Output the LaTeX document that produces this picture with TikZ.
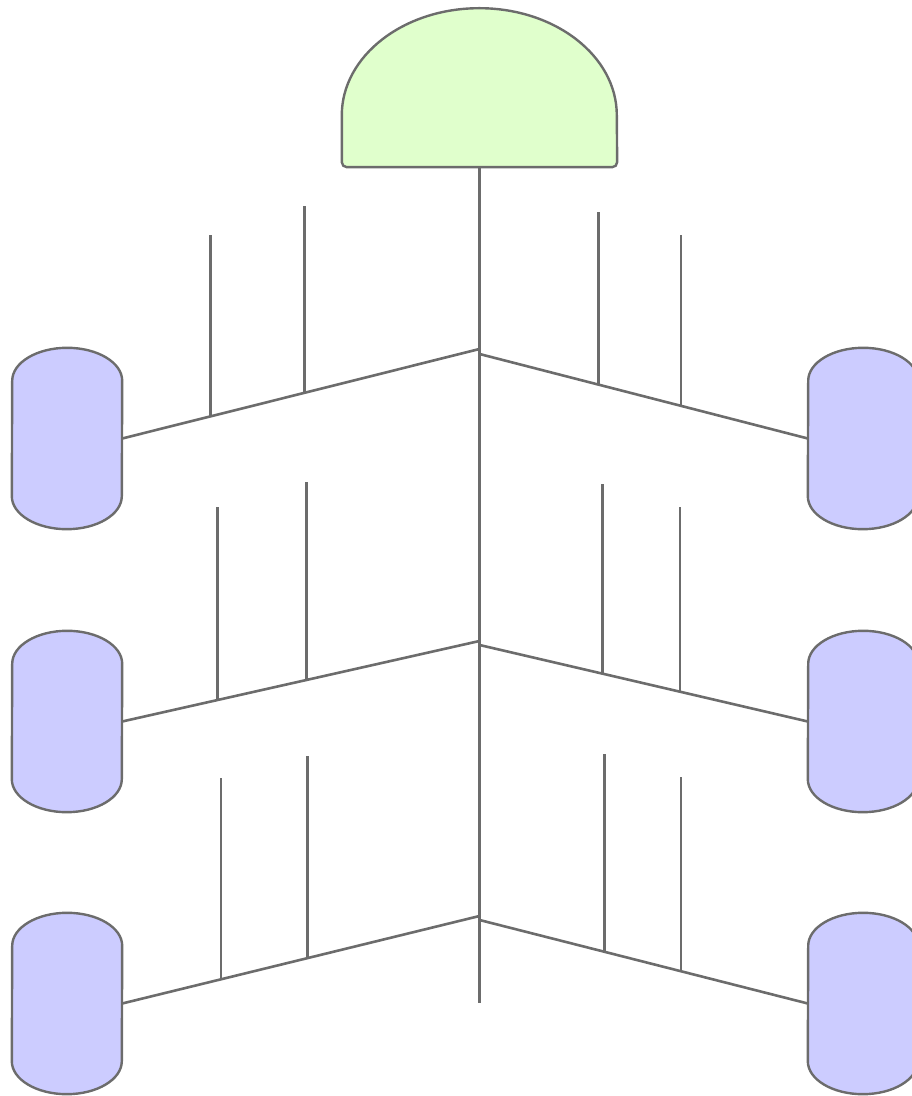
\documentclass[tikz,border=0pt]{standalone}
\usetikzlibrary{calc}
\definecolor{headgreen}{RGB}{224,255,204}
\definecolor{causeblue}{RGB}{204,204,255}
\definecolor{boneline}{RGB}{108,108,108}

\begin{document}
\begin{tikzpicture}[x=1pt,y=1pt,
  bone/.style={draw=boneline,line width=2.6pt},
  headbox/.style={inner sep=0pt,minimum width=275pt,minimum height=159pt},
  cause/.style={inner sep=0pt,minimum width=110pt,minimum height=181pt},
  outline/.style={draw=boneline,line width=2.4pt}]
\useasboundingbox (0,0) rectangle (912,1096);
\clip (0,0) rectangle (912,1096);
% head and causes
\node[headbox] (head) at (479.5,1008.5) {};
\node[cause] (c1) at (67,657.5) {};
\node[cause] (c2) at (863,657.5) {};
\node[cause] (c3) at (67,374.5) {};
\node[cause] (c4) at (863,374.5) {};
\node[cause] (c5) at (67,92.5) {};
\node[cause] (c6) at (863,92.5) {};
\filldraw[outline,fill=headgreen] ($(head.south west)+(0,52)$)
  arc[start angle=180,end angle=0,x radius=137.5,y radius=107]
  [rounded corners=5] -- (head.south east) -- (head.south west) [sharp corners] -- cycle;
\foreach \n in {c1,c2,c3,c4,c5,c6}
  \filldraw[outline,fill=causeblue] ($(\n.north east)+(0,-33)$)
    arc[start angle=0,end angle=180,x radius=55,y radius=33]
    -- ($(\n.south west)+(0,33)$)
    arc[start angle=180,end angle=360,x radius=55,y radius=33] -- cycle;
% spine and branches
\coordinate (tail) at (479.5,93);
\coordinate (jl1) at (479.5,747); \coordinate (jr1) at (479.5,742);
\coordinate (jl2) at (479.5,455); \coordinate (jr2) at (479.5,451);
\coordinate (jl3) at (479.5,180); \coordinate (jr3) at (479.5,176);
\draw[bone] (head.south) -- (tail);
\draw[bone] (jl1) -- (c1.east); \draw[bone] (jr1) -- (c2.west);
\draw[bone] (jl2) -- (c3.east); \draw[bone] (jr2) -- (c4.west);
\draw[bone] (jl3) -- (c5.east); \draw[bone] (jr3) -- (c6.west);
% ribs
\foreach \j/\c/\p/\t [count=\i] in {jl1/c1.east/0.490/890, jl1/c1.east/0.7535/861,
    jl2/c3.east/0.485/614, jl2/c3.east/0.734/589,
    jl3/c5.east/0.482/340, jl3/c5.east/0.723/318,
    jr1/c2.west/0.362/884, jr1/c2.west/0.614/861,
    jr2/c4.west/0.374/612, jr2/c4.west/0.611/589,
    jr3/c6.west/0.380/342, jr3/c6.west/0.614/319} {
  \path (\j) -- (\c) coordinate[pos=\p] (rib\i);
  \draw[bone] (rib\i) -- (rib\i |- 0,\t);
}
\end{tikzpicture}
\end{document}
